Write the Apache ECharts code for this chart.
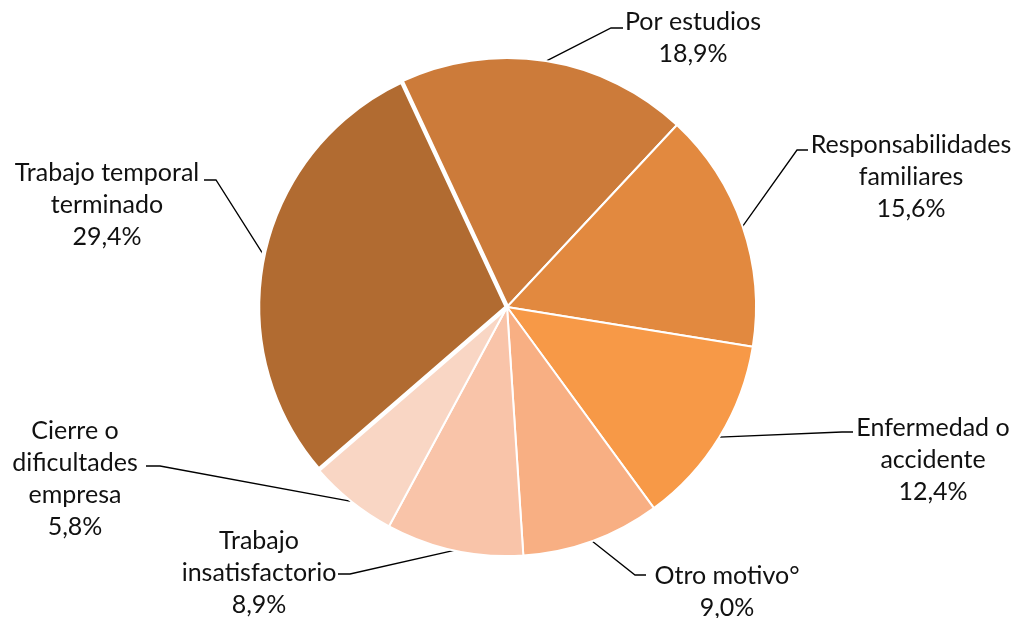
<!DOCTYPE html>
<html lang="es">
<head>
<meta charset="UTF-8">
<title>Motivos</title>
<script src="https://cdn.jsdelivr.net/npm/echarts@6/dist/echarts.min.js"></script>
<style>
  html, body { margin: 0; padding: 0; background: #fff; }
  #chart { width: 1015px; height: 618px; }
</style>
</head>
<body>
<div id="chart"></div>
<script>
// categorias y porcentajes (orden horario desde "Por estudios")
var categorias = ['Por estudios', 'Responsabilidades\nfamiliares', 'Enfermedad o\naccidente', 'Otro motivo°',
  'Trabajo\ninsatisfactorio', 'Cierre o\ndificultades\nempresa', 'Trabajo temporal\nterminado'];
var valores = [18.9, 15.6, 12.4, 9.0, 8.9, 5.8, 29.4];
var colores = ['#CC7B3A', '#E2893F', '#F79947', '#F8AF83', '#F9C4A9', '#F9D6C4', '#B16B31'];

// posicion de cada etiqueta: centro del texto, codo y final de la linea guia
var etiquetas = [
  { x: 693, y: 38, bend: [611, 28], end: [623, 28] },
  { x: 911, y: 177, bend: [797, 150], end: [808, 150] },
  { x: 933, y: 460, bend: [842, 432], end: [853, 432] },
  { x: 727, y: 592, bend: [635, 575], end: [646, 575] },
  { x: 259, y: 573, bend: [350, 574], end: [338, 574] },
  { x: 75, y: 479, bend: [160, 466], end: [146, 466] },
  { x: 107, y: 205, bend: [216, 180], end: [204, 180] }
];

var datos = valores.map(function (v, i) {
  var d = { name: categorias[i], value: v, itemStyle: { color: colores[i] } };
  // la porcion mayor aparece algo separada del resto
  if (i === 6) d.itemStyle.borderWidth = 4.5;
  return d;
});

var chart = echarts.init(document.getElementById('chart'));
chart.setOption({
  animation: false,
  series: [{
    type: 'pie',
    center: [507, 307],
    radius: 249,
    startAngle: 115,
    itemStyle: { borderColor: '#fff', borderWidth: 2 },
    emphasis: { disabled: true },
    label: {
      show: true,
      position: 'outside',
      color: '#111',
      fontFamily: 'Lato',
      fontSize: 25,
      lineHeight: 32,
      formatter: function (p) {
        return p.name + '\n' + p.value.toFixed(1).replace('.', ',') + '%';
      }
    },
    labelLine: {
      show: true,
      lineStyle: { color: '#000', width: 1.3 }
    },
    labelLayout: function (p) {
      var e = etiquetas[p.dataIndex];
      var a = p.labelLinePoints ? p.labelLinePoints[0] : e.bend;
      return {
        x: e.x,
        y: e.y,
        align: 'center',
        verticalAlign: 'middle',
        labelLinePoints: [a, e.bend, e.end]
      };
    },
    data: datos
  }]
});
</script>
</body>
</html>
